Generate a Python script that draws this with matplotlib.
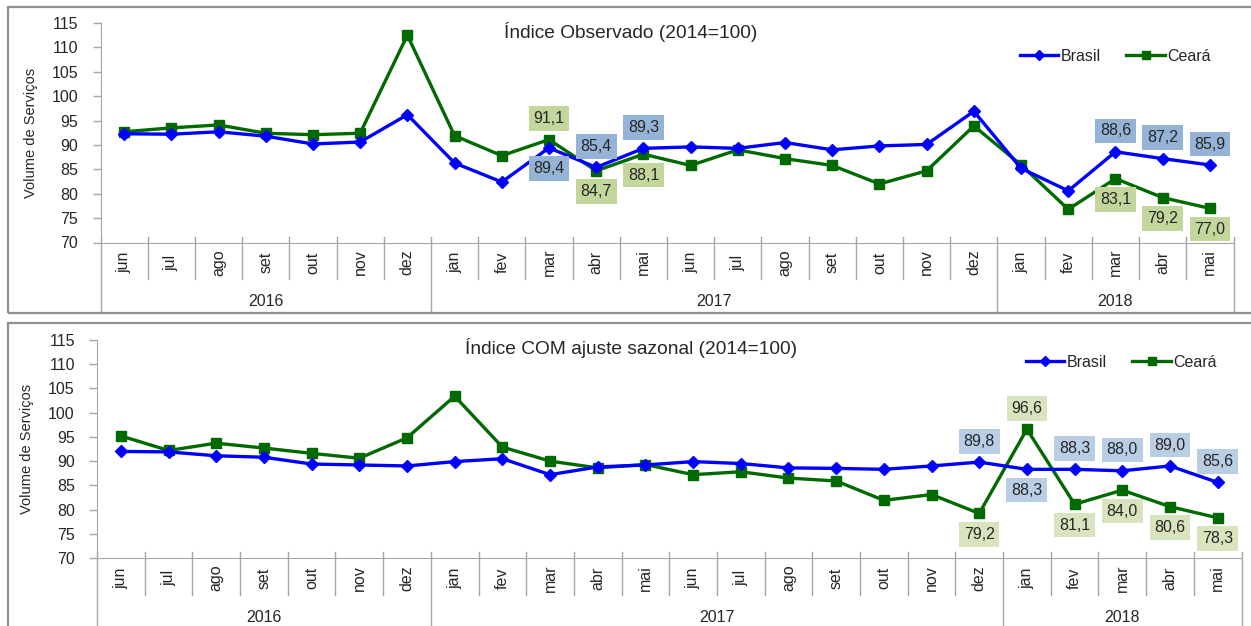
import matplotlib
matplotlib.use('Agg')
import matplotlib.pyplot as plt
from matplotlib.patches import Rectangle
from matplotlib.lines import Line2D
import matplotlib.transforms as mtransforms

plt.rcParams['font.family'] = ['Liberation Sans', 'DejaVu Sans']

# dados
meses = ['jun', 'jul', 'ago', 'set', 'out', 'nov', 'dez',
         'jan', 'fev', 'mar', 'abr', 'mai', 'jun', 'jul', 'ago', 'set', 'out', 'nov', 'dez',
         'jan', 'fev', 'mar', 'abr', 'mai']
anos = ['2016', '2017', '2018']
anos_limites = [0, 7, 19, 24]  # indice inicial de cada ano

brasil_obs = [92.3, 92.2, 92.7, 91.8, 90.2, 90.6, 96.2,
              86.3, 82.4, 89.4, 85.4, 89.3, 89.6, 89.3, 90.5, 89.0, 89.8, 90.1, 96.9,
              85.2, 80.6, 88.6, 87.2, 85.9]
ceara_obs = [92.7, 93.5, 94.1, 92.4, 92.1, 92.4, 112.5,
             91.9, 87.8, 91.1, 84.7, 88.1, 85.8, 89.0, 87.2, 85.8, 82.0, 84.7, 93.9,
             85.9, 76.8, 83.1, 79.2, 77.0]

brasil_sa = [92.0, 91.9, 91.1, 90.8, 89.4, 89.2, 89.0,
             89.9, 90.5, 87.2, 88.8, 89.2, 89.9, 89.5, 88.6, 88.5, 88.3, 89.0, 89.8,
             88.3, 88.3, 88.0, 89.0, 85.6]
ceara_sa = [95.2, 92.2, 93.7, 92.7, 91.6, 90.6, 94.8,
            103.4, 92.9, 90.0, 88.6, 89.3, 87.2, 87.8, 86.5, 85.9, 81.9, 83.1, 79.2,
            96.6, 81.1, 84.0, 80.6, 78.3]

# rotulos: (indice, posicao) 1 = acima, -1 = abaixo
rot_brasil_obs = [(9, -1), (10, 1), (11, 1), (21, 1), (22, 1), (23, 1)]
rot_ceara_obs = [(9, 1), (10, -1), (11, -1), (21, -1), (22, -1), (23, -1)]
rot_brasil_sa = [(18, 1), (19, -1), (20, 1), (21, 1), (22, 1), (23, 1)]
rot_ceara_sa = [(18, -1), (19, 1), (20, -1), (21, -1), (22, -1), (23, -1)]

W, H = 1251, 626
cor_azul = '#0000FF'
cor_verde = '#006A00'
cor_eixo = '#A6A6A6'
cor_texto = '#262626'


def fx(px):
    return px / W


def fy(py):
    return 1 - py / H


def desenhar_painel(fig, x0, x1, y_top, y_bot, brasil, ceara, titulo, titulo_y,
                    rot_b, rot_c, cor_box_b, cor_box_c, legenda_x, legenda_y, fundo_y):
    ax = fig.add_axes([fx(x0), fy(y_bot), fx(x1) - fx(x0), fy(y_top) - fy(y_bot)])
    ax.set_facecolor('none')
    x = list(range(len(meses)))

    ax.plot(x, brasil, color=cor_azul, linewidth=2.4, marker='D', markersize=6.5,
            label='Brasil', zorder=5, clip_on=False)
    ax.plot(x, ceara, color=cor_verde, linewidth=2.4, marker='s', markersize=6.5,
            label='Ceará', zorder=4, clip_on=False)

    ax.set_xlim(-0.5, len(meses) - 0.5)
    ax.set_ylim(70, 115)
    ax.set_yticks(range(70, 116, 5))
    ax.tick_params(axis='y', colors=cor_eixo, labelcolor=cor_texto, labelsize=11.5,
                   length=6, width=1, pad=10)
    ax.set_xticks([])
    for s in ['top', 'right']:
        ax.spines[s].set_visible(False)
    ax.spines['left'].set_color(cor_eixo)
    ax.spines['bottom'].set_color(cor_eixo)
    ax.spines['left'].set_bounds(70, 115)
    ax.set_ylabel('Volume de Serviços', fontsize=10.5, color=cor_texto, labelpad=10)

    # separadores e rotulos do eixo x
    trans = mtransforms.blended_transform_factory(ax.transData, fig.transFigure)
    sep_top = fy(y_bot - 6)
    sep_mes = fy(y_bot + 37)
    for i in range(1, len(meses) + 1):
        if i in anos_limites:
            continue
        ax.add_line(Line2D([i - 0.5, i - 0.5], [sep_top, sep_mes], transform=trans,
                           color=cor_eixo, linewidth=1, clip_on=False))
    for i in anos_limites:
        ax.add_line(Line2D([i - 0.5, i - 0.5], [sep_top, fundo_y], transform=trans,
                           color=cor_eixo, linewidth=1, clip_on=False))
    for i, m in enumerate(meses):
        ax.text(i, fy(y_bot + 20), m, transform=trans, rotation=90, ha='center',
                va='center', fontsize=11.5, color=cor_texto)
    for k, ano in enumerate(anos):
        meio = (anos_limites[k] + anos_limites[k + 1] - 1) / 2
        ax.text(meio, fy(y_bot + 59), ano, transform=trans, ha='center', va='center',
                fontsize=11.5, color=cor_texto)

    # rotulos de dados
    for serie, rots, cor in [(brasil, rot_b, cor_box_b), (ceara, rot_c, cor_box_c)]:
        for i, pos in rots:
            txt = f'{serie[i]:.1f}'.replace('.', ',')
            ax.annotate(txt, xy=(i, serie[i]), xytext=(0, 15 * pos), textcoords='offset points',
                        ha='center', va='center', fontsize=11.5, color=cor_texto, zorder=6,
                        bbox=dict(boxstyle='square,pad=0.3', facecolor=cor, edgecolor='none'))

    fig.text(fx(631), fy(titulo_y), titulo, ha='center', va='center', fontsize=13.8,
             color=cor_texto)
    ax.legend(loc='center left', bbox_to_anchor=(fx(legenda_x), fy(legenda_y)),
              bbox_transform=fig.transFigure, ncol=2, frameon=False, fontsize=11.5,
              handlelength=2.4, handletextpad=0.15, columnspacing=1.6, borderpad=0,
              borderaxespad=0, markerscale=0.8, labelcolor=cor_texto)
    return ax


fig = plt.figure(figsize=(W / 100, H / 100), dpi=100)
fig.patch.set_facecolor('white')

# caixas externas
fig.add_artist(Rectangle((fx(7.5), fy(313)), 1.0, fy(6.5) - fy(313), transform=fig.transFigure,
                         facecolor='none', edgecolor='#909090', linewidth=1.6))
fig.add_artist(Rectangle((fx(7.5), fy(640)), 1.0, fy(323) - fy(640), transform=fig.transFigure,
                         facecolor='none', edgecolor='#909090', linewidth=1.6))

desenhar_painel(fig, 100.5, 1233.5, 23, 242.5, brasil_obs, ceara_obs,
                'Índice Observado (2014=100)', 32, rot_brasil_obs, rot_ceara_obs,
                '#95B3D7', '#C3D69B', 1020, 56.5, fy(313))
desenhar_painel(fig, 97, 1241.5, 340, 558, brasil_sa, ceara_sa,
                'Índice COM ajuste sazonal (2014=100)', 348.5, rot_brasil_sa, rot_ceara_sa,
                '#B9CDE5', '#D7E4BD', 1026, 362.5, 0.0)

fig.savefig('out.png', dpi=100, facecolor='white')
